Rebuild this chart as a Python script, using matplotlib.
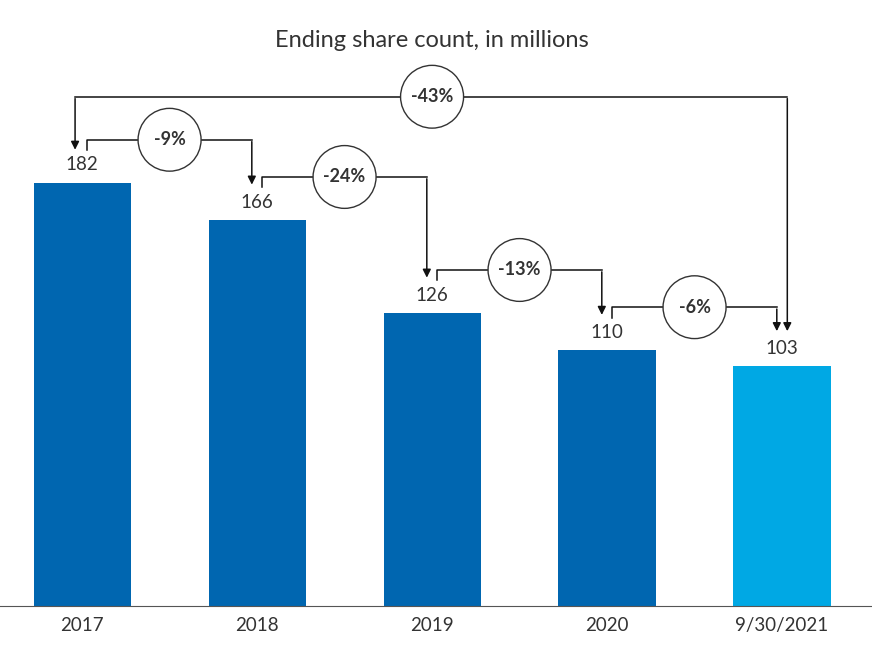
import matplotlib.pyplot as plt
from matplotlib.patches import Ellipse

plt.rcParams['font.family'] = ['Lato', 'DejaVu Sans']

labels = ['2017', '2018', '2019', '2020', '9/30/2021']
values = [182, 166, 126, 110, 103]
colors = ['#0066b0', '#0066b0', '#0066b0', '#0066b0', '#00a8e4']
step_pct = ['-9%', '-24%', '-13%', '-6%']
total_pct = '-43%'

fig = plt.figure(figsize=(8.72, 6.58), dpi=100)
ax = fig.add_axes([0, 0.079, 1, 0.921])
x = list(range(len(values)))
ax.bar(x, values, width=0.555, color=colors)
ax.set_xlim(-0.469, 4.514)
ax.set_ylim(0, 260.6)
for s in ['top', 'right', 'left']:
    ax.spines[s].set_visible(False)
ax.spines['bottom'].set_color('#555555')
ax.set_yticks([])
ax.set_xticks(x)
ax.set_xticklabels(labels, fontsize=13.5, color='#333333')
ax.tick_params(axis='x', length=0, pad=8)

for xi, v in zip(x, values):
    ax.text(xi, v + 4, str(v), ha='center', va='bottom', fontsize=13.5, color='#333333')

ax.text(2.0, 243, 'Ending share count, in millions', ha='center', va='center',
        fontsize=17, color='#333333')

def circle_label(cx, cy, txt):
    ax.add_patch(Ellipse((cx, cy), 0.36, 27, facecolor='white', edgecolor='#333333', lw=1, zorder=5))
    ax.text(cx, cy, txt, ha='center', va='center', fontsize=13, fontweight='bold',
            color='#333333', zorder=6)

lc = '#111111'
dx = 0.03
for i, pct in enumerate(step_pct):
    lvl = values[i] + 18.5
    x0, x1 = i + dx, i + 1 - dx
    ax.plot([x0, x0, x1], [lvl - 4.5, lvl, lvl], color=lc, lw=1.1)
    ax.annotate('', xy=(x1, values[i + 1] + 14), xytext=(x1, lvl + 0.4),
                arrowprops=dict(arrowstyle='-|>', color=lc, lw=1.1, mutation_scale=12))
    circle_label(i + 0.5, lvl, pct)

top = 219
xl, xr = -0.04, 4.03
ax.plot([xl, xr], [top, top], color=lc, lw=1.1)
ax.annotate('', xy=(xl, values[0] + 13), xytext=(xl, top + 0.4),
            arrowprops=dict(arrowstyle='-|>', color=lc, lw=1.1, mutation_scale=12))
ax.annotate('', xy=(xr, values[-1] + 14), xytext=(xr, top + 0.4),
            arrowprops=dict(arrowstyle='-|>', color=lc, lw=1.1, mutation_scale=12))
circle_label(2.0, top, total_pct)

fig.savefig('out.png', dpi=100)
